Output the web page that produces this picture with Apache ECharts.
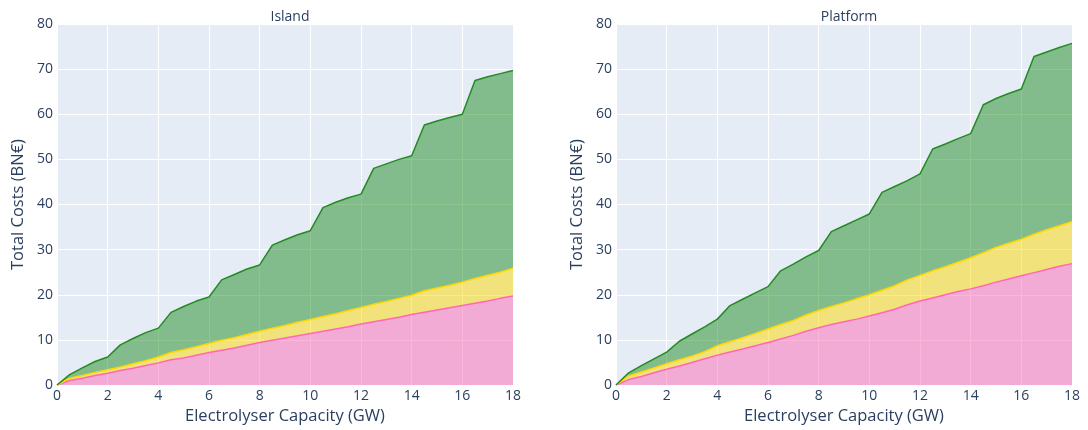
<!DOCTYPE html>
<html>
<head>
<meta charset="utf-8">
<script src="https://cdn.jsdelivr.net/npm/echarts@6/dist/echarts.min.js"></script>
<style>
  html, body { margin: 0; padding: 0; background: #fff; }
  #chart { width: 1088px; height: 430px; }
</style>
</head>
<body>
<div id="chart"></div>
<script>
// electrolyser capacity (GW)
const capacity = [0, 0.5, 1, 1.5, 2, 2.5, 3, 3.5, 4, 4.5, 5, 5.5, 6, 6.5, 7, 7.5, 8, 8.5, 9,
  9.5, 10, 10.5, 11, 11.5, 12, 12.5, 13, 13.5, 14, 14.5, 15, 15.5, 16, 16.5, 17, 17.5, 18]

// Island - cost components (BN€)
const islandPink = [0, 1.0, 1.5, 2.1, 2.6, 3.2, 3.7, 4.3, 4.9, 5.6, 6.0, 6.6, 7.2, 7.7, 8.2, 8.8, 9.4, 9.9, 10.4,
  10.9, 11.4, 11.9, 12.4, 12.9, 13.5, 14.0, 14.5, 15.0, 15.6, 16.1, 16.6, 17.1, 17.6, 18.1, 18.6, 19.2, 19.7]
const islandYellow = [0, 0.5, 0.6, 0.7, 0.8, 0.8, 1.0, 1.1, 1.3, 1.6, 1.8, 1.9, 2.0, 2.2, 2.3, 2.4, 2.5, 2.7, 2.8,
  3.0, 3.1, 3.3, 3.4, 3.6, 3.7, 3.9, 4.0, 4.2, 4.3, 4.8, 4.9, 5.0, 5.2, 5.5, 5.7, 5.8, 6.2]
const islandGreen = [0, 0.8, 1.7, 2.4, 2.8, 4.9, 5.6, 6.2, 6.4, 8.9, 9.6, 10.1, 10.3, 13.4, 14.0, 14.5, 14.7, 18.4, 19.0,
  19.4, 19.7, 24.1, 24.7, 25.0, 25.1, 30.1, 30.5, 30.8, 30.9, 36.7, 37.0, 37.2, 37.2, 43.9, 44.0, 44.0, 43.8]

// Platform - cost components (BN€)
const platformPink = [0, 1.2, 1.9, 2.7, 3.5, 4.2, 5.0, 5.8, 6.6, 7.3, 8.0, 8.7, 9.4, 10.2, 11.0, 11.9, 12.7, 13.4, 14.0,
  14.6, 15.3, 16.0, 16.8, 17.8, 18.6, 19.3, 20.0, 20.7, 21.3, 22.0, 22.8, 23.5, 24.2, 24.9, 25.6, 26.3, 26.9]
const platformYellow = [0, 0.8, 1.0, 1.1, 1.2, 1.4, 1.4, 1.6, 2.1, 2.3, 2.5, 2.7, 3.0, 3.2, 3.3, 3.6, 3.8, 4.0, 4.2,
  4.5, 4.7, 5.0, 5.2, 5.5, 5.7, 6.0, 6.2, 6.5, 6.9, 7.3, 7.7, 7.9, 8.1, 8.5, 8.8, 9.0, 9.3]
const platformGreen = [0, 0.7, 1.4, 2.0, 2.6, 4.1, 4.9, 5.5, 5.9, 8.0, 8.5, 9.0, 9.4, 11.9, 12.5, 12.9, 13.3, 16.6, 17.1,
  17.5, 17.9, 21.7, 22.0, 22.0, 22.5, 27.0, 27.2, 27.4, 27.5, 32.8, 33.0, 33.2, 33.3, 39.4, 39.4, 39.5, 39.5]

const yTicks = [0, 80, 10]   // min, max, interval

const font = '"Open Sans", "DejaVu Sans", sans-serif'
const textColor = '#2a3f5f'

const colors = {
  pink: { line: '#ff69b4', fill: 'rgba(255,105,180,0.5)' },
  gold: { line: '#ffd700', fill: 'rgba(255,215,0,0.5)' },
  green: { line: '#228b22', fill: 'rgba(34,139,34,0.5)' }
}

const makeSeries = (name, vals, idx, stack, c) => ({
  name: name,
  type: 'line',
  xAxisIndex: idx,
  yAxisIndex: idx,
  stack: stack,
  data: vals,
  showSymbol: false,
  lineStyle: { color: c.line, width: 1.5 },
  itemStyle: { color: c.line },
  areaStyle: { color: c.fill, opacity: 1 }
})

// one label / grid line every 2 GW (every 4th category)
const makeX = (idx) => ({
  type: 'category',
  gridIndex: idx,
  data: capacity,
  boundaryGap: false,
  name: 'Electrolyser Capacity (GW)',
  nameLocation: 'middle',
  nameGap: 23,
  nameTextStyle: { fontFamily: font, fontSize: 16.5, color: textColor },
  axisLine: { show: false },
  axisTick: { show: false },
  axisLabel: { interval: 3, fontFamily: font, fontSize: 14, color: textColor, margin: 4 },
  splitLine: { show: true, interval: 3, lineStyle: { color: '#ffffff', width: 1 } }
})

const makeY = (idx) => ({
  type: 'value',
  gridIndex: idx,
  min: yTicks[0],
  max: yTicks[1],
  interval: yTicks[2],
  name: 'Total Costs (BN€)',
  nameLocation: 'middle',
  nameGap: 30,
  nameTextStyle: { fontFamily: font, fontSize: 16.5, color: textColor },
  axisLine: { show: false },
  axisTick: { show: false },
  axisLabel: { fontFamily: font, fontSize: 14, color: textColor, margin: 4 },
  splitLine: { lineStyle: { color: '#ffffff', width: 1 } }
})

const chart = echarts.init(document.getElementById('chart'))
chart.setOption({
  animation: false,
  backgroundColor: '#ffffff',
  title: [
    { text: 'Island', left: 285, top: 5, textAlign: 'center',
      textStyle: { fontFamily: font, fontSize: 14, fontWeight: 'normal', color: textColor } },
    { text: 'Platform', left: 844, top: 5, textAlign: 'center',
      textStyle: { fontFamily: font, fontSize: 14, fontWeight: 'normal', color: textColor } }
  ],
  grid: [
    { left: 57, right: 575, top: 24, bottom: 44, show: true, backgroundColor: '#e5ecf6', borderWidth: 0 },
    { left: 616, right: 16, top: 24, bottom: 44, show: true, backgroundColor: '#e5ecf6', borderWidth: 0 }
  ],
  xAxis: [makeX(0), makeX(1)],
  yAxis: [makeY(0), makeY(1)],
  series: [
    makeSeries('Pink', islandPink, 0, 'island', colors.pink),
    makeSeries('Yellow', islandYellow, 0, 'island', colors.gold),
    makeSeries('Green', islandGreen, 0, 'island', colors.green),
    makeSeries('Pink', platformPink, 1, 'platform', colors.pink),
    makeSeries('Yellow', platformYellow, 1, 'platform', colors.gold),
    makeSeries('Green', platformGreen, 1, 'platform', colors.green)
  ]
})
</script>
</body>
</html>
